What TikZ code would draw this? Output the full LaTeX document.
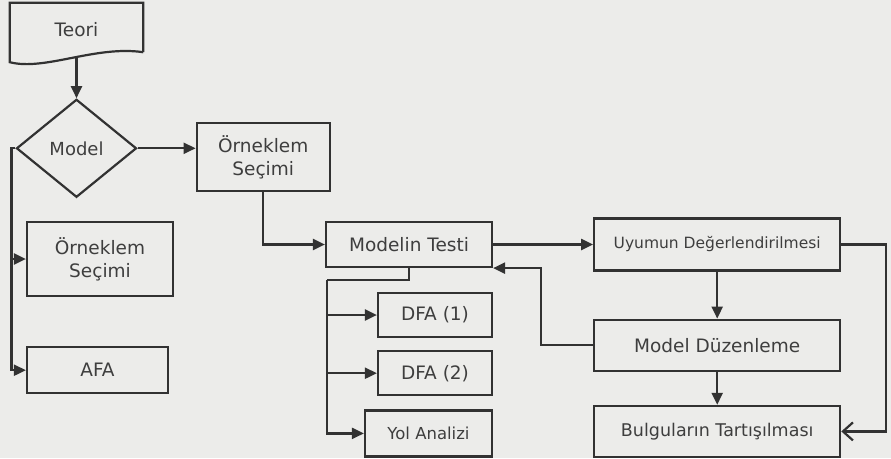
\documentclass[tikz,border=0pt]{standalone}
\usepackage{fontspec}
\setmainfont{DejaVu Sans}
\usetikzlibrary{positioning,arrows.meta,shapes,calc}
\definecolor{scanbg}{RGB}{236,236,234}
\definecolor{ink}{RGB}{50,50,50}
\definecolor{inktext}{RGB}{62,62,62}

\begin{document}
\begin{tikzpicture}[
  x=1pt, y=-1pt,
  node distance=40pt,
  box/.style={draw=ink, line width=2.2pt, align=center, inner sep=2pt, text=inktext, font=\fontsize{18.5}{23}\selectfont},
  doc/.style={align=center, inner sep=2pt, text=inktext, minimum width=133pt, minimum height=54pt, font=\fontsize{18.5}{23}\selectfont},
  decision/.style={diamond, draw=ink, line width=2.2pt, minimum width=120pt, minimum height=98pt, inner sep=0pt, text=inktext, font=\fontsize{18}{23}\selectfont},
  line/.style={draw=ink, line width=2.2pt},
  arr/.style={line, -{Triangle[length=12pt,width=11pt]}},
  openarr/.style={line, -{Straight Barb[length=10pt,width=18pt]}}
]
\path[use as bounding box, fill=scanbg] (0,0) rectangle (891,458);

\node[doc] (teori) at (76.5,30) {Teori};
\draw[line, line join=miter] ($(teori.south east)+(0,-5)$) -- (teori.north east) -- (teori.north west) -- ($(teori.south west)+(0,5)$) .. controls ($(teori.south west)+(35,14)$) and ($(teori.south east)+(-48,-12)$) .. ($(teori.south east)+(0,-5)$);

\node[decision, below=41pt of teori] (model) {Model};
\node[box, minimum width=133pt, minimum height=68pt, right=58pt of model, yshift=-9pt] (ornek1) {Örneklem\\Seçimi};
\node[box, minimum width=146pt, minimum height=74pt] (ornek2) at (100,259) {Örneklem\\Seçimi};
\node[box, minimum width=141pt, minimum height=46pt, below=49pt of ornek2, xshift=-2.5pt] (afa) {AFA};

\node[box, minimum width=166pt, minimum height=45pt] (testi) at (409,244.5) {Modelin Testi};
\node[box, minimum width=114pt, minimum height=44pt] (dfa1) at (435,315) {DFA (1)};
\node[box, minimum width=114pt, minimum height=44pt, below=12pt of dfa1] (dfa2) {DFA (2)};
\node[box, minimum width=127pt, minimum height=46pt, below=13pt of dfa2, xshift=-6.5pt, font=\fontsize{16.5}{20}\selectfont] (yol) {Yol Analizi};

\node[box, minimum width=246pt, minimum height=52pt, right=100pt of testi, font=\fontsize{15.5}{19}\selectfont] (uyum) {Uyumun Değerlendirilmesi};
\node[box, minimum width=246pt, minimum height=51pt, below=47pt of uyum] (duzen) {Model Düzenleme};
\node[box, minimum width=246pt, minimum height=51pt, below=33pt of duzen, font=\fontsize{17.5}{22}\selectfont] (bulgu) {Bulguların Tartışılması};

\coordinate (lsplit) at ($(model.west)+(-4,0)$);
\coordinate (tsplit) at (327,280);
\coordinate (fback) at ($(testi.south east)+(48,0)$);
\coordinate (rturn) at ($(uyum.east)+(45,0)$);

\draw[arr] (teori.south) -- (model.north);
\draw[arr] (model.east) -- (model.east -| ornek1.west);
\draw[arr] (model.west) -- (lsplit) |- (ornek2.west);
\draw[arr] (lsplit) |- (afa.west);
\draw[arr] (ornek1.south) |- (testi.west);
\draw[arr] (testi.east) -- (uyum.west);
\draw[line] (testi.south) |- (tsplit);
\draw[arr] (tsplit) |- (dfa1.west);
\draw[arr] (tsplit) |- (dfa2.west);
\draw[arr] (tsplit) |- (yol.west);
\draw[arr] (duzen.west) -| (fback) -- (testi.south east);
\draw[arr] (uyum.south) -- (duzen.north);
\draw[arr] (duzen.south) -- (bulgu.north);
\draw[openarr] (uyum.east) -- (rturn) |- (bulgu.east);
\end{tikzpicture}
\end{document}
